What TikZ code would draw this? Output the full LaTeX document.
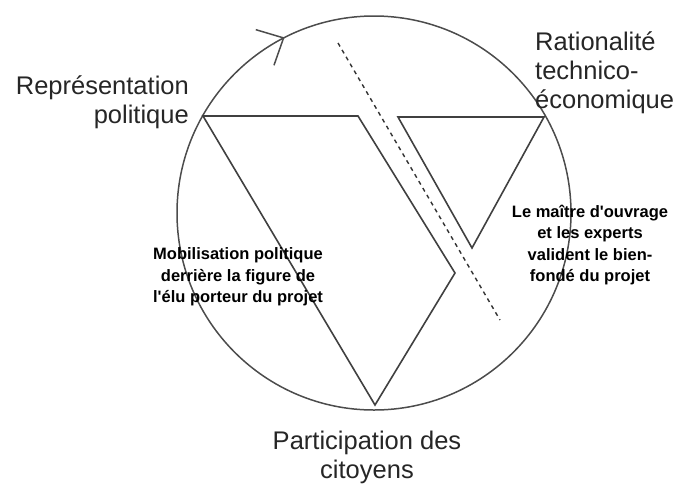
\documentclass[tikz,border=0pt]{standalone}
\usepackage{fontspec}
\setmainfont{Liberation Sans}[Ligatures=TeXOff]
\usetikzlibrary{arrows.meta,decorations.markings}

\begin{document}
\begin{tikzpicture}[x=1pt,y=-1pt]
  \tikzset{every node/.style={inner sep=0pt,text=black!85},
    big/.style={font=\fontsize{25.5}{29}\selectfont},
    small/.style={font=\bfseries\fontsize{16.5}{21.5}\selectfont,align=center,text=black}}
  \tikzstyle{edge}=[line width=1.6pt,black!75,line join=miter]
  \tikzstyle{flow}=[line width=1.5pt,black!70]

  \def\R{197}
  \useasboundingbox (0,0) rectangle (677,483);

  \coordinate (O) at (374,213);
  \coordinate (rep) at (203,116);
  \coordinate (rat) at (544,117);
  \coordinate (cit) at (375,405);

  % cycle with its arrow
  \draw[flow,postaction={decorate},
    decoration={markings,mark=at position 0.675 with {\arrow{Straight Barb[length=21pt,width=40pt]}}}]
    (O) circle (\R);

  % political triangle, bent round the separation
  \draw[edge] (rep) -- (358,116) coordinate (kinkA) -- (455,273) coordinate (kinkB) -- (cit) -- cycle;

  % technical triangle
  \draw[edge] (398,117) coordinate (tecA) -- (rat) -- (472,248) coordinate (tecB) -- cycle;

  % separation
  \draw[line width=1.4pt,black!80,dash pattern=on 4pt off 4pt]
    (338,43) coordinate (sepA) -- (500,320) coordinate (sepB);

  % poles
  \node[big,align=right,anchor=east] (lrep) at (189,102) {Représentation\\politique};
  \node[big,align=left,anchor=west] (lrat) at (535,73) {Rationalité\\technico-\\économique};
  \node[big,align=center] (lcit) at (367,457) {Participation des\\citoyens};

  % comments inside the circle
  \node[small] (lmob) at (238,277) {Mobilisation politique\\derrière la figure de\\l'élu porteur du projet};
  \node[small] (lmoa) at (590,245) {Le maître d'ouvrage\\et les experts\\valident le bien-\\fondé du projet};

\end{tikzpicture}
\end{document}
